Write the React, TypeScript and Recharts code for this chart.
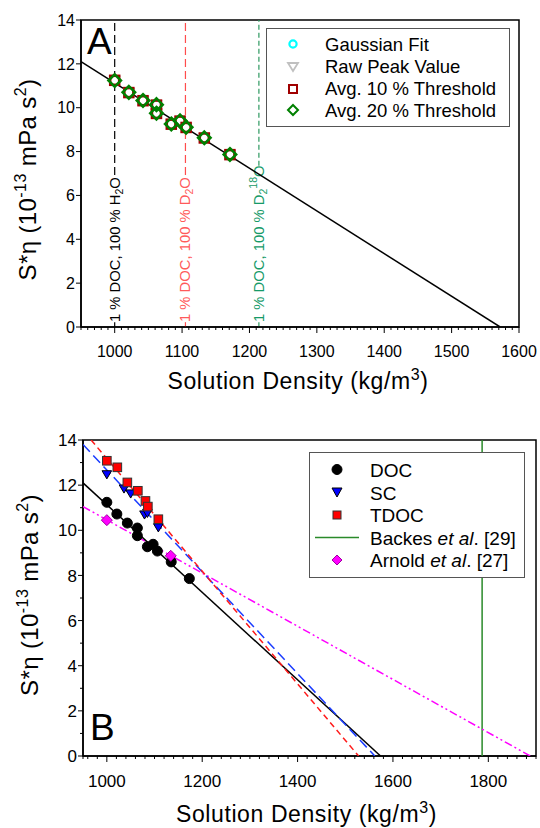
import React from 'react';
import { ScatterChart, Scatter, XAxis, YAxis, ReferenceLine, ReferenceArea } from 'recharts';

const FONT = '"Liberation Sans", Arial, Helvetica, sans-serif';

// ---------- Panel A data ----------
const densityA = [1000, 1021, 1042, 1062, 1062, 1084, 1097, 1106, 1133, 1171];
const gaussianFit = [11.24, 10.70, 10.33, 10.14, 9.75, 9.26, 9.40, 9.11, 8.63, 7.87];
const rawPeak = [11.26, 10.71, 10.34, 10.15, 9.76, 9.27, 9.41, 9.12, 8.64, 7.88];
const avg10 = [11.25, 10.69, 10.32, 10.12, 9.74, 9.25, 9.39, 9.10, 8.62, 7.86];
const avg20 = [11.24, 10.70, 10.33, 10.14, 9.75, 9.26, 9.40, 9.11, 8.63, 7.87];
const fitDensityA = [950, 1572];
const fitValueA = [12.1, 0];
const refDensityA = [1000, 1105, 1214];
const xMajorA = [1000, 1100, 1200, 1300, 1400, 1500, 1600];
const yMajor = [0, 2, 4, 6, 8, 10, 12, 14];

// ---------- Panel B data ----------
const docDensity = [1000, 1021, 1043, 1064, 1064, 1085, 1097, 1106, 1135, 1173];
const docValue = [11.24, 10.72, 10.32, 10.10, 9.76, 9.27, 9.38, 9.08, 8.60, 7.86];
const scDensity = [1000, 1036, 1050, 1079, 1085, 1108];
const scValue = [12.49, 11.86, 11.64, 10.71, 10.78, 10.14];
const tdocDensity = [1000, 1022, 1043, 1065, 1081, 1086, 1108];
const tdocValue = [13.08, 12.79, 12.12, 11.75, 11.30, 11.05, 10.49];
const arnoldDensity = [1000, 1134];
const arnoldValue = [10.45, 8.87];
const docFitDensity = [950, 1574];
const docFitValue = [12.1, 0];
const scFitDensity = [950, 1562];
const scFitValue = [13.8, 0];
const tdocFitDensity = [967, 1528];
const tdocFitValue = [14, 0];
const arnoldFitDensity = [950, 1888];
const arnoldFitValue = [11.05, 0];
const backesDensity = [1787, 1787];
const backesValue = [0, 14];
const xMajorB = [1000, 1200, 1400, 1600, 1800];

const range = (a: number, b: number, s: number) => {
  const out: number[] = [];
  for (let v = a; v <= b + 1e-9; v += s) out.push(Math.round(v * 1000) / 1000);
  return out;
};
const zip = (xs: number[], ys: number[]) => xs.map((x, i) => ({ x, y: ys[i] }));

// ---------- shapes ----------
const circleShape = (r: number, fill: string, stroke: string, sw: number) => (p: any) =>
  <circle cx={p.cx} cy={p.cy} r={r} fill={fill} stroke={stroke} strokeWidth={sw} />;
const squareShape = (h: number, fill: string, stroke: string, sw: number) => (p: any) =>
  <rect x={p.cx - h} y={p.cy - h} width={2 * h} height={2 * h} fill={fill} stroke={stroke} strokeWidth={sw} />;
const diamondShape = (h: number, fill: string, stroke: string, sw: number) => (p: any) =>
  <polygon points={`${p.cx},${p.cy - h} ${p.cx + h},${p.cy} ${p.cx},${p.cy + h} ${p.cx - h},${p.cy}`} fill={fill} stroke={stroke} strokeWidth={sw} />;
const triShape = (h: number, fill: string, stroke: string, sw: number) => (p: any) =>
  <polygon points={`${p.cx - h},${p.cy - h * 0.7} ${p.cx + h},${p.cy - h * 0.7} ${p.cx},${p.cy + h}`} fill={fill} stroke={stroke} strokeWidth={sw} />;
const noShape = () => <g />;

// ---------- ticks ----------
const makeXTick = (majors: number[], fontSize: number, dy: number) => (props: any) => {
  const { x, y, payload } = props;
  const major = majors.includes(payload.value);
  return (
    <g>
      <line x1={x} x2={x} y1={y} y2={y + (major ? 6 : 3)} stroke="#000" strokeWidth={1} />
      {major && (
        <text x={x} y={y + dy} textAnchor="middle" fontSize={fontSize} fontFamily={FONT} fill="#000">{payload.value}</text>
      )}
    </g>
  );
};
const makeYTick = (majors: number[], fontSize: number, gap: number) => (props: any) => {
  const { x, y, payload } = props;
  const major = majors.includes(payload.value);
  return (
    <g>
      <line x1={x - (major ? 5 : 3)} x2={x} y1={y} y2={y} stroke="#000" strokeWidth={1} />
      {major && (
        <text x={x - gap} y={y + fontSize * 0.36} textAnchor="end" fontSize={fontSize} fontFamily={FONT} fill="#000">{payload.value}</text>
      )}
    </g>
  );
};

const xTitle = (dx: number, dy: number) => (props: any) => {
  const vb = props.viewBox;
  return (
    <text x={vb.x + vb.width / 2 + dx} y={vb.y + dy} textAnchor="middle" fontSize={23} letterSpacing={0.6} fontFamily={FONT} fill="#000">
      Solution Density (kg/m<tspan dy={-9} fontSize={16}>3</tspan><tspan dy={9}>)</tspan>
    </text>
  );
};
const yTitle = (letter: string, lx: number, ly: (vb: any) => number, cyOff: number) => (props: any) => {
  const vb = props.viewBox;
  const bx = vb.x + 5;
  const cy = vb.y + vb.height / 2 + cyOff;
  return (
    <g>
      <text transform={`rotate(-90 ${bx} ${cy})`} x={bx} y={cy} textAnchor="middle" fontSize={24} letterSpacing={0.4} fontFamily={FONT} fill="#000">
        S*η (10<tspan dy={-10} fontSize={16}>-13</tspan><tspan dy={10}> mPa s</tspan><tspan dy={-10} fontSize={16}>2</tspan><tspan dy={10}>)</tspan>
      </text>
      <text x={vb.x + vb.width + lx} y={ly(vb)} fontSize={37} fontFamily={FONT} fill="#000">{letter}</text>
    </g>
  );
};

const vText = (color: string, kind: number) => (props: any) => {
  const vb = props.viewBox;
  const bx = vb.x + 5;
  const by = vb.y + vb.height - 5;
  return (
    <text transform={`rotate(-90 ${bx} ${by})`} x={bx} y={by} fontSize={14.8} fontFamily={FONT} fill={color}>
      {kind === 0 && (<>1 % DOC, 100 % H<tspan dy={3} fontSize={10.5}>2</tspan><tspan dy={-3}>O</tspan></>)}
      {kind === 1 && (<>1 % DOC, 100 % D<tspan dy={3} fontSize={10.5}>2</tspan><tspan dy={-3}>O</tspan></>)}
      {kind === 2 && (<>1 % DOC, 100 % D<tspan dy={3} fontSize={10.5}>2</tspan><tspan dy={-10} fontSize={10.5}>18</tspan><tspan dy={7}>O</tspan></>)}
    </text>
  );
};

const refColors = ['#000000', '#ff4d4d', '#2e9960'];
const refTextColors = ['#000000', '#ff5a5a', '#169a68'];
const refDash = ['8 4', '8 4', '5 3'];
const refTop = [6.93, 6.93, 7.35];

const LegendA = () => (
  <svg width={244} height={99} style={{ position: 'absolute', left: 266, top: 28 }}>
    <rect x={0.5} y={0.5} width={243} height={98} fill="#fff" stroke="#555" strokeWidth={1} />
    <circle cx={27} cy={16} r={3.6} fill="none" stroke="#00ffff" strokeWidth={2.2} />
    <polygon points="22,35 32,35 27,43" fill="none" stroke="#c0c0c0" strokeWidth={1.8} />
    <rect x={23} y={57} width={8} height={8} fill="none" stroke="#a00000" strokeWidth={2} />
    <polygon points="27,77 32,82 27,87 22,82" fill="none" stroke="#008000" strokeWidth={2} />
    <g fontSize={18.5} fontFamily={FONT} fill="#000">
      <text x={59} y={22.5}>Gaussian Fit</text>
      <text x={59} y={44.5}>Raw Peak Value</text>
      <text x={59} y={67}>Avg. 10 % Threshold</text>
      <text x={59} y={88.5}>Avg. 20 % Threshold</text>
    </g>
  </svg>
);

const LegendB = () => (
  <svg width={216} height={126} style={{ position: 'absolute', left: 309, top: 452 }}>
    <rect x={0.5} y={0.5} width={215} height={125} fill="#fff" stroke="#555" strokeWidth={1} />
    <circle cx={28} cy={17.5} r={5} fill="#000" stroke="#000" />
    <polygon points="23,36 33,36 28,45" fill="#0000ff" stroke="#000" strokeWidth={1} />
    <rect x={24} y={59} width={8} height={8} fill="#ff0000" stroke="#333" strokeWidth={1} />
    <line x1={6} x2={50} y1={85.5} y2={85.5} stroke="#2a8a2a" strokeWidth={1.5} />
    <polygon points="28,103 33,108 28,113 23,108" fill="#ff00ff" stroke="#a000a0" strokeWidth={1} />
    <g fontSize={19} fontFamily={FONT} fill="#000">
      <text x={61} y={24.5}>DOC</text>
      <text x={61} y={47.5}>SC</text>
      <text x={61} y={70}>TDOC</text>
      <text x={61} y={92.5}>Backes <tspan fontStyle="italic">et al</tspan>. [29]</text>
      <text x={61} y={115}>Arnold <tspan fontStyle="italic">et al</tspan>. [27]</text>
    </g>
  </svg>
);

export default function App() {
  const axisLine = { stroke: '#000', strokeWidth: 1.5 };
  return (
    <div style={{ position: 'absolute', left: 0, top: 0, width: 540, height: 828, background: '#fff' }}>
      <div style={{ position: 'absolute', left: 0, top: 0 }}>
        <ScatterChart width={540} height={400} margin={{ top: 20, right: 21, bottom: 23, left: 31 }}>
          <XAxis type="number" dataKey="x" domain={[950, 1600]} ticks={range(950, 1600, 10)} interval={0}
            tickSize={0} tickMargin={0} tickLine={false} axisLine={axisLine} height={50}
            tick={makeXTick(xMajorA, 16, 30)} label={xTitle(-2, 62)} allowDataOverflow />
          <YAxis type="number" dataKey="y" domain={[0, 14]} ticks={yMajor} interval={0}
            tickSize={0} tickMargin={0} tickLine={false} axisLine={axisLine} width={50}
            tick={makeYTick(yMajor, 16, 6)} label={yTitle('A', 6, (vb: any) => vb.y + 34, 6)} allowDataOverflow />
          <ReferenceArea x1={950} x2={1600} y1={0} y2={14} fill="none" stroke="#000" strokeWidth={1.5} fillOpacity={0} />
          {refDensityA.map((d, i) => (
            <ReferenceLine key={'s' + i} segment={[{ x: d, y: refTop[i] }, { x: d, y: 14 }]} stroke={refColors[i]} strokeWidth={1.2} strokeDasharray={refDash[i]} />
          ))}
          {refDensityA.map((d, i) => (
            <ReferenceLine key={'b' + i} segment={[{ x: d, y: 0 }, { x: d, y: 0.22 }]} stroke={refColors[i]} strokeWidth={1.2} />
          ))}
          {refDensityA.map((d, i) => (
            <ReferenceLine key={'t' + i} x={d} stroke="none" label={vText(refTextColors[i], i)} />
          ))}
          <Scatter data={zip(fitDensityA, fitValueA)} line={{ stroke: '#000', strokeWidth: 1.5 }} shape={noShape} isAnimationActive={false} legendType="none" />
          <Scatter data={zip(densityA, gaussianFit)} shape={circleShape(4, '#fff', '#00ffff', 2)} isAnimationActive={false} />
          <Scatter data={zip(densityA, rawPeak)} shape={triShape(5, 'none', '#c0c0c0', 1.5)} isAnimationActive={false} />
          <Scatter data={zip(densityA, avg10)} shape={squareShape(4.5, '#fff', '#a00000', 2.5)} isAnimationActive={false} />
          <Scatter data={zip(densityA, avg20)} shape={diamondShape(6.2, 'none', '#008000', 2.6)} isAnimationActive={false} />
        </ScatterChart>
      </div>
      <LegendA />
      <div style={{ position: 'absolute', left: 0, top: 400 }}>
        <ScatterChart width={540} height={428} margin={{ top: 40, right: 4, bottom: 22, left: 33 }}>
          <XAxis type="number" dataKey="x" domain={[950, 1900]} ticks={[950, ...range(960, 1900, 20)]} interval={0}
            tickSize={0} tickMargin={0} tickLine={false} axisLine={axisLine} height={50}
            tick={makeXTick(xMajorB, 17, 31)} label={xTitle(-3, 66)} allowDataOverflow />
          <YAxis type="number" dataKey="y" domain={[0, 14]} ticks={range(0, 14, 1)} interval={0}
            tickSize={0} tickMargin={0} tickLine={false} axisLine={axisLine} width={50}
            tick={makeYTick(yMajor, 17, 6)} label={yTitle('B', 7, (vb: any) => vb.y + vb.height - 16, -3)} allowDataOverflow />
          <ReferenceArea x1={950} x2={1900} y1={0} y2={14} fill="none" stroke="#000" strokeWidth={1.5} fillOpacity={0} />
          <Scatter data={zip(backesDensity, backesValue)} line={{ stroke: '#2a8a2a', strokeWidth: 1.5 }} shape={noShape} isAnimationActive={false} />
          <Scatter data={zip(arnoldFitDensity, arnoldFitValue)} line={{ stroke: '#ff00ff', strokeWidth: 1.5, strokeDasharray: '8 3 2 3 2 3' }} shape={noShape} isAnimationActive={false} />
          <Scatter data={zip(docFitDensity, docFitValue)} line={{ stroke: '#000', strokeWidth: 1.5 }} shape={noShape} isAnimationActive={false} />
          <Scatter data={zip(scFitDensity, scFitValue)} line={{ stroke: '#1a3cff', strokeWidth: 1.5, strokeDasharray: '10 5' }} shape={noShape} isAnimationActive={false} />
          <Scatter data={zip(tdocFitDensity, tdocFitValue)} line={{ stroke: '#ff1a1a', strokeWidth: 1.5, strokeDasharray: '6 4' }} shape={noShape} isAnimationActive={false} />
          <Scatter data={zip(docDensity, docValue)} shape={circleShape(5, '#000', '#000', 1)} isAnimationActive={false} />
          <Scatter data={zip(scDensity, scValue)} shape={triShape(4.8, '#0000ff', '#000', 1)} isAnimationActive={false} />
          <Scatter data={zip(tdocDensity, tdocValue)} shape={squareShape(4.3, '#ff0000', '#333', 1)} isAnimationActive={false} />
          <Scatter data={zip(arnoldDensity, arnoldValue)} shape={diamondShape(5.5, '#ff00ff', '#a000a0', 1)} isAnimationActive={false} />
        </ScatterChart>
      </div>
      <LegendB />
    </div>
  );
}
